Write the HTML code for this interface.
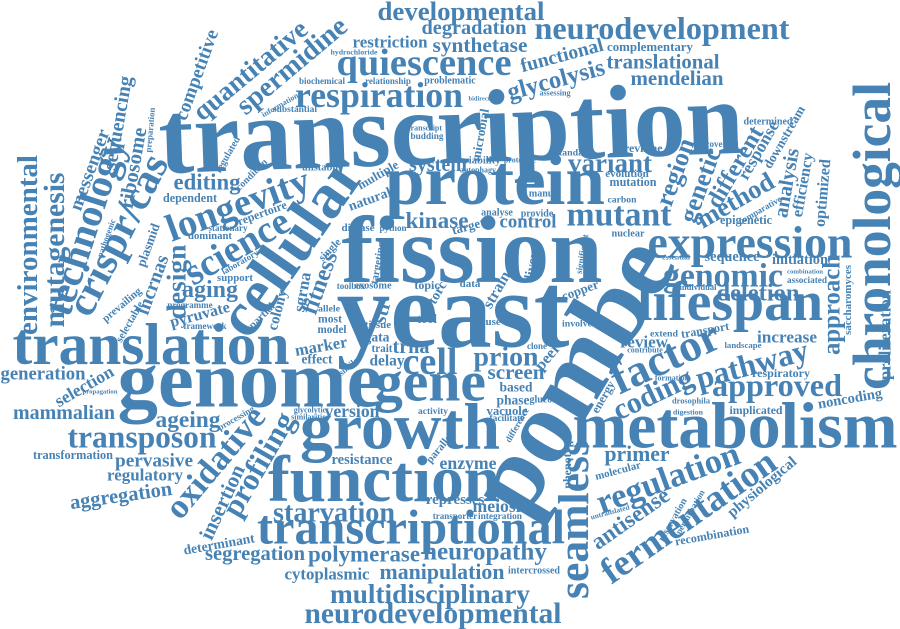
<!DOCTYPE html>
<html>
<head>
<meta charset="utf-8">
<style>
html,body{margin:0;padding:0;background:#fff;}
#cloud{display:block;width:900px;height:629px;}
#cloud text{font-family:"Liberation Serif",serif;font-weight:bold;fill:#4682b4;}
</style>
</head>
<body>
<svg id="cloud" width="900" height="629" viewBox="0 0 900 629" xmlns="http://www.w3.org/2000/svg"></svg>
<script>
// word, centerX, centerY, fontSize, rotation(deg), textLength (0 = natural)
const words = [
["transcription",451,128,100,-2,585],
["fission",472,250,96,0,261],
["yeast",453,311,105,0,233],
["pombe",572,375,105,-59,300],
["genome",250,380,80,0,265],
["translation",151,344,58,0,277],
["protein",495,181,72,0,220],
["growth",400,427,66,0,200],
["function",384,480,65,0,232],
["transcriptional",411,528,55,0,308],
["metabolism",735,426,66,0,325],
["cell",430,362,50,0,55],
["gene",430,382,50,0,112],
["mutant",619,215,44,0,105],
["expression",750,242,58,0,205],
["lifespan",730,302,52,0,186],
["chronological",872,236,58,-90,308],
["cellular",290,245,72,-55,205],
["longevity",238,205,44,-20,150],
["science",237,247,42,-30,115],
["crispr/cas",118,235,48,-63,175],
["technology",85,226,40,-72,185],
["mutagenesis",55,250,32,-90,155],
["environmental",28,245,32,-90,180],
["messenger",90,170,20,-70,85],
["sequencing",118,123,22,-80,95],
["ribosome",133,168,22,-80,82],
["preparation",150,130,11,-85,45],
["competitive",197,75,20,-70,95],
["quantitative",250,70,28,-40,140],
["spermidine",292,66,30,-40,135],
["plasmid",148,245,17,-70,45],
["pathogenic",106,238,11,-70,40],
["lncrnas",153,285,28,-70,62],
["design",176,282,30,-90,75],
["fitness",320,283,30,-70,65],
["sgrna",302,292,18,-80,40],
["single",330,250,11,-45,0],
["developmental",461,11,26,0,167],
["degradation",474,28,22,0,105],
["restriction",390,42,20,0,75],
["synthetase",480,45,22,0,95],
["hydrochloride",354,52,10,0,47],
["quiescence",424,63,40,0,175],
["biochemical",322,81,9,0,0],
["relationship",388,81,9,0,0],
["problematic",450,81,10,0,0],
["respiration",379,95,38,0,168],
["substantial",295,110,11,0,44],
["transcript",425,128,10,0,34],
["budding",427,137,11,0,33],
["system",438,165,20,0,58],
["unstable",321,168,12,0,38],
["multiple",378,175,13,-30,45],
["editing",207,182,26,0,67],
["dependent",190,198,16,0,54],
["dominant",210,236,15,0,44],
["aging",210,290,30,0,56],
["support",235,278,15,0,36],
["neurodevelopment",662,28,38,0,255],
["functional",562,56,24,-15,85],
["complementary",650,47,16,0,86],
["translational",663,62,28,0,113],
["glycolysis",556,80,30,-15,100],
["mendelian",677,78,28,0,93],
["assessing",555,93,11,0,31],
["bidirectional",486,99,9,0,35],
["microbial",480,135,13,-80,0],
["viability",482,161,15,0,37],
["determined",768,122,14,0,49],
["uncovering",717,144,13,0,43],
["standard",574,153,14,0,38],
["cerevisiae",638,148,16,0,49],
["variant",610,163,36,0,84],
["region",675,172,36,-70,70],
["genetic",700,185,32,-70,78],
["different",735,167,30,-60,90],
["method",735,200,36,-30,85],
["response",758,150,24,-60,65],
["downstream",784,137,18,-60,70],
["analysis",787,183,24,-80,70],
["efficiency",803,185,20,-80,65],
["optimized",823,193,20,-85,68],
["mutation",633,182,15,0,47],
["evolution",627,174,11,0,0],
["carbon",622,200,14,0,29],
["control",528,222,26,0,57],
["epigenetic",746,220,15,0,52],
["nuclear",628,234,14,0,33],
["sequence",732,257,18,0,55],
["initiation",800,260,20,0,56],
["essential",676,257,11,0,28],
["genomic",723,276,40,0,120],
["combination",805,272,10,0,36],
["associated",807,280,14,0,40],
["approach",832,305,22,-90,100],
["saccharomyces",848,300,11,-90,70],
["deletion",758,293,30,0,83],
["individual",698,287,13,0,37],
["proliferation",885,335,16,-90,90],
["kinase",437,220,28,0,63],
["allele",329,309,15,0,22],
["str",382,312,20,-75,0],
["exosome",373,286,15,0,37],
["toolbox",351,286,9,0,0],
["natural",370,200,14,-20,0],
["disease",358,228,11,0,0],
["python",393,228,9,0,0],
["diverse",533,262,14,-80,0],
["strain",497,290,16,-60,0],
["topic",427,285,12,0,0],
["torc",438,293,14,-60,0],
["data",470,284,11,0,0],
["copper",580,290,13,-20,0],
["cause",488,322,11,0,0],
["target",468,226,13,-15,0],
["analyse",497,213,10,0,0],
["provide",537,214,10,0,0],
["manual",545,194,10,0,0],
["targeting",378,263,11,-80,0],
["significant",582,254,9,-80,0],
["prion",506,357,34,0,65],
["screen",516,372,26,0,57],
["based",516,387,22,0,33],
["phase",513,400,22,0,33],
["vacuole",507,411,20,0,41],
["facilitate",507,419,10,0,35],
["version",352,411,20,0,55],
["activity",433,412,15,0,30],
["resistance",362,460,17,0,61],
["enzyme",468,463,24,0,57],
["starvation",334,513,36,0,122],
["polymerase",364,554,32,0,112],
["segregation",255,554,26,0,100],
["determinant",219,544,18,-10,72],
["cytoplasmic",327,574,22,0,85],
["manipulation",442,572,30,0,125],
["intercrossed",534,571,15,0,52],
["neuropathy",485,552,30,0,124],
["multidisciplinary",430,594,34,0,200],
["neurodevelopmental",433,614,36,0,257],
["seamless",574,519,40,-90,160],
["factor",665,357,50,-25,115],
["coding",653,394,38,-25,85],
["pathway",752,364,38,-15,115],
["approved",777,385,38,0,130],
["energy",603,397,16,-60,35],
["review",644,342,22,0,48],
["extend",664,334,15,0,28],
["increase",787,337,24,0,60],
["landscape",743,345,13,0,37],
["respiratory",781,373,16,0,58],
["noncoding",850,399,20,-10,65],
["implicated",756,410,18,0,53],
["drosophila",691,401,13,0,38],
["digestion",688,412,11,0,30],
["primer",637,454,30,0,65],
["molecular",618,471,15,-15,47],
["regulation",668,478,42,-20,150],
["antisense",630,518,28,-35,90],
["fermentation",688,516,44,-35,205],
["physiological",762,487,18,-40,85],
["recombination",712,535,16,-10,75],
["untranslated",610,512,10,-15,40],
["meiosis",500,506,24,0,55],
["integration",500,517,15,0,44],
["represses",455,500,15,0,0],
["phenotype",567,462,12,-90,0],
["clone",537,346,15,0,20],
["peer",548,357,16,-50,0],
["involve",577,324,16,0,30],
["generation",43,374,22,0,85],
["selection",84,386,20,-30,65],
["propagation",100,392,10,0,35],
["mammalian",64,413,24,0,102],
["ageing",188,420,30,0,65],
["transposon",142,437,34,0,149],
["transformation",73,455,16,0,80],
["pervasive",154,461,24,0,78],
["regulatory",145,475,22,0,76],
["aggregation",121,496,26,-8,103],
["oxidative",215,462,40,-50,135],
["insertion",222,502,24,-65,80],
["profiling",258,464,40,-60,115],
["processing",236,418,9,-30,0],
["marker",321,346,24,-10,53],
["effect",317,359,20,0,31],
["most",330,319,18,0,24],
["model",332,330,18,0,29],
["gata",377,337,20,0,25],
["trait",382,348,20,0,21],
["trna",411,347,30,0,37],
["delay",387,361,22,0,35],
["tool",427,319,20,0,20],
["tissue",378,325,11,0,0],
["pyruvate",200,315,16,-15,0],
["colony",278,310,15,-75,0],
["partial",262,316,11,-45,0],
["repertoire",262,213,12,-20,0],
["condition",252,175,10,-45,0],
["regulated",228,155,10,-60,0],
["information",280,105,8,-30,0],
["prevailing",122,305,11,-40,0],
["selectable",130,322,11,-60,0],
["programme",190,305,9,0,0],
["framework",205,326,9,0,0],
["laboratory",240,262,9,-30,0],
["stationary",228,228,9,0,0],
["similar",350,365,9,-40,0],
["glycolytic",310,410,8,0,0],
["similarities",310,417,8,0,0],
["parallel",440,448,11,-50,0],
["glucose",545,400,10,0,0],
["difference",517,425,9,-60,0],
["transporter",455,516,9,0,0],
["proteome",520,160,8,0,0],
["autophagy",478,170,8,0,0],
["comparative",760,210,9,-30,0],
["formation",672,378,8,0,0],
["transport",705,330,12,-10,0],
["contribute",645,350,8,0,0],
["reservation",673,520,10,-60,0],
["perturbation",690,512,9,-60,0]
];

const svgNS = "http://www.w3.org/2000/svg";
const svg = document.getElementById("cloud");
for (const w of words) {
  const el = document.createElementNS(svgNS, "text");
  
  
  el.setAttribute("x", w[1]);
  el.setAttribute("y", w[2]);
  el.setAttribute("font-size", w[3]);
  el.setAttribute("text-anchor", "middle");
  el.setAttribute("dominant-baseline", "central");
  el.textContent = w[0];
  svg.appendChild(el);
  if (w[5] > 0) {
    const nat = el.getComputedTextLength();
    if (nat > 0) {
      let fs = w[3] * w[5] / nat;
      fs = Math.max(w[3] * 0.6, Math.min(w[3] * 1.5, fs));
      el.setAttribute("font-size", fs.toFixed(1));
    }
    el.setAttribute("textLength", w[5]);
    el.setAttribute("lengthAdjust", "spacingAndGlyphs");
  }
  if (w[4] !== 0) el.setAttribute("transform", "rotate(" + w[4] + " " + w[1] + " " + w[2] + ")");
}
</script>
</body>
</html>
